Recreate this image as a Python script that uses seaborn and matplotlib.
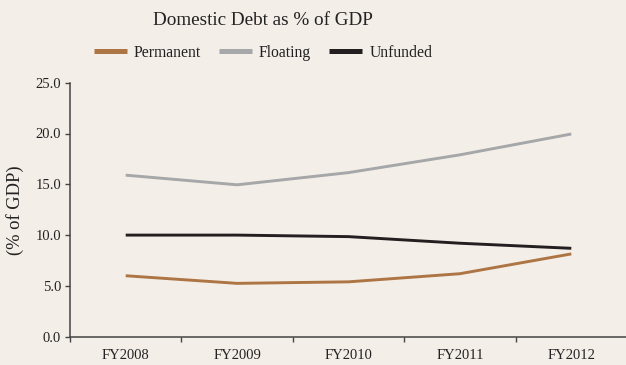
import matplotlib
matplotlib.use("Agg")
import matplotlib.pyplot as plt
import seaborn as sns
import pandas as pd
from matplotlib.ticker import FixedLocator

# Domestic debt components, % of GDP
years = ["FY2008", "FY2009", "FY2010", "FY2011", "FY2012"]
permanent = [6.0, 5.25, 5.4, 6.2, 8.15]
floating = [15.9, 14.95, 16.15, 17.9, 19.95]
unfunded = [10.0, 10.0, 9.85, 9.2, 8.7]
series_names = ["Permanent", "Floating", "Unfunded"]
colors = ["#ad7544", "#a6a7a9", "#231f20"]

bg = "#f4eee8"
sns.set_style("ticks")
plt.rcParams["font.family"] = ["Liberation Serif", "DejaVu Serif"]

rows = []
for name, vals in zip(series_names, [permanent, floating, unfunded]):
    for i, (yr, v) in enumerate(zip(years, vals)):
        rows.append({"pos": i, "year": yr, "value": v, "series": name})
df = pd.DataFrame(rows)

fig = plt.figure(figsize=(6.26, 3.65), dpi=100, facecolor=bg)
ax = fig.add_axes([70 / 626, 28.3 / 365, 557 / 626, 254 / 365])
ax.set_facecolor(bg)

sns.lineplot(data=df, x="pos", y="value", hue="series", hue_order=series_names,
             palette=colors, linewidth=2.1, ax=ax, legend=False, sort=False)
for line in ax.lines:
    line.set_solid_capstyle("butt")
    line.set_solid_joinstyle("round")

ax.set_xlim(-0.5, 4.5)
ax.set_ylim(0, 25)
ax.set_yticks([0, 5, 10, 15, 20, 25])
ax.set_yticklabels([f"{v:.1f}" for v in [0, 5, 10, 15, 20, 25]], fontsize=10.5)
ax.set_xticks(range(len(years)))
ax.set_xticklabels(years, fontsize=10.5)
ax.xaxis.set_minor_locator(FixedLocator([-0.5, 0.5, 1.5, 2.5, 3.5, 4.5]))
ax.tick_params(axis="x", which="major", length=0, pad=9, colors="#222222")
ax.tick_params(axis="x", which="minor", length=3.5, width=1, color="#444444", direction="out")
ax.tick_params(axis="y", length=3.5, width=1, color="#444444", pad=3, labelcolor="#222222")
ax.set_xlabel("")
ax.set_ylabel("")
for s in ["top", "right"]:
    ax.spines[s].set_visible(False)
for s in ["left", "bottom"]:
    ax.spines[s].set_color("#444444")
    ax.spines[s].set_linewidth(1.1)

fig.text(15 / 626, 0.423, "(% of GDP)", rotation=90, ha="center", va="center",
         fontsize=13.3, color="#222222")
fig.text(263 / 626, 0.945, "Domestic Debt as % of GDP", ha="center", va="center",
         fontsize=13.8, color="#222222")

handles = [plt.Line2D([], [], color=c, linewidth=3.6, solid_capstyle="butt") for c in colors]
fig.legend(handles, series_names, loc="center", bbox_to_anchor=(263 / 626, 0.855),
           ncol=3, frameon=False, fontsize=11.3, handlelength=2.1,
           handletextpad=0.45, columnspacing=1.15, labelcolor="#222222")

fig.savefig("out.png", dpi=100, facecolor=bg)
